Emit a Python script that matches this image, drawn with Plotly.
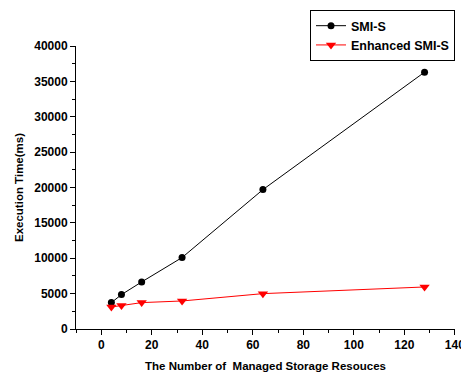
import plotly.graph_objects as go

x_vals = [4, 8, 16, 32, 64, 128]
smis = [3730, 4860, 6650, 10100, 19700, 36300]
enhanced = [3110, 3310, 3730, 3960, 5000, 5940]

x_ticks = [0, 20, 40, 60, 80, 100, 120, 140]
y_ticks = [0, 5000, 10000, 15000, 20000, 25000, 30000, 35000, 40000]

font_fam = "Liberation Sans, Arial, sans-serif"

fig = go.Figure()
fig.add_trace(go.Scatter(x=x_vals, y=smis, mode="lines+markers", name="<b>SMI-S</b>",
                         line=dict(color="black", width=1),
                         marker=dict(symbol="circle", size=7, color="black")))
fig.add_trace(go.Scatter(x=x_vals, y=enhanced, mode="lines+markers", name="<b>Enhanced SMI-S</b>",
                         line=dict(color="red", width=1),
                         marker=dict(symbol="triangle-down", size=9, color="red")))

axis_common = dict(showgrid=False, zeroline=False, showline=True, linecolor="black", linewidth=1,
                   ticks="outside", ticklen=5, tickcolor="black", automargin=False,
                   ticklabeloverflow="allow",
                   tickfont=dict(family=font_fam, size=12, color="black"))

fig.update_xaxes(range=[-10, 140.05], tickmode="array", tickvals=x_ticks,
                 ticktext=[f"<b>{v}</b>" for v in x_ticks],
                 minor=dict(ticks="outside", ticklen=3, dtick=10, tick0=0, tickcolor="black"),
                 title=dict(text="<b>The Number of  Managed Storage Resouces</b>",
                            font=dict(family=font_fam, size=11.5, color="black"), standoff=14),
                 **axis_common)
fig.update_yaxes(range=[0, 40000], tickmode="array", tickvals=y_ticks,
                 ticktext=[f"<b>{v}</b>" for v in y_ticks],
                 minor=dict(ticks="outside", ticklen=3, dtick=2500, tick0=0, tickcolor="black"),
                 title=dict(text="<b>Execution Time(ms)</b>",
                            font=dict(family=font_fam, size=11.5, color="black"), standoff=8),
                 **axis_common)

fig.update_layout(
    width=461, height=372,
    margin=dict(l=76, r=6, t=46, b=43),
    plot_bgcolor="white", paper_bgcolor="white",
    showlegend=True,
    legend=dict(x=1.0, xanchor="right", y=1.127, yanchor="top",
                bordercolor="black", borderwidth=1, bgcolor="white",
                font=dict(family=font_fam, size=12.5, color="black"),
                tracegroupgap=0, itemwidth=30),
)

fig.write_html("out.html")
